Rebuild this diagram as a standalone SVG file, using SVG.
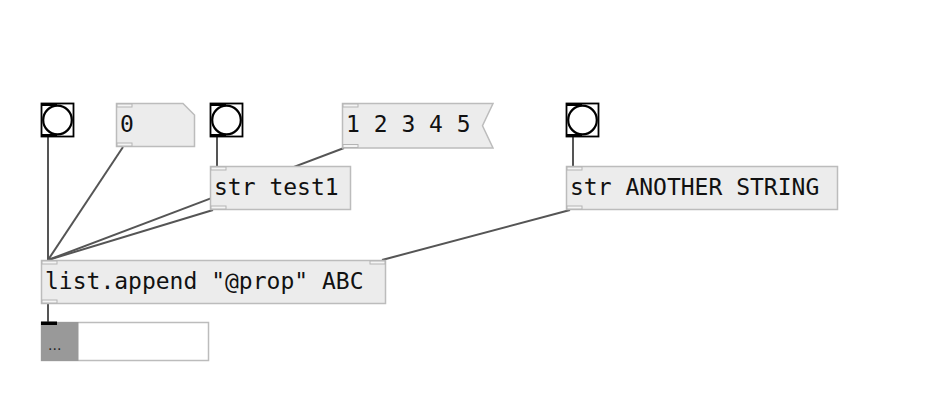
<svg xmlns="http://www.w3.org/2000/svg" width="932" height="400" viewBox="0 0 932 400">
<style>
.box{fill:#ececec;stroke:#bcbcbc;stroke-width:1.5}
.io{fill:#f4f4f4;stroke:#b4b4b4;stroke-width:1}
.t{font-family:"DejaVu Sans Mono","Liberation Mono",monospace;font-size:23px;fill:#111}
.w{stroke:#555;stroke-width:2;fill:none}
.bng{fill:#fff;stroke:#000;stroke-width:1.8}
.circ{fill:#fff;stroke:#000;stroke-width:2.2}
.bio{fill:#000}
</style>
<rect width="932" height="400" fill="#fff"/>
<g id="connectors">
<line class="w" x1="48" y1="137" x2="48" y2="260"/>
<line class="w" x1="123" y1="147" x2="48" y2="260"/>
<line class="w" x1="217" y1="137" x2="217" y2="166"/>
<line class="w" x1="344" y1="148" x2="48" y2="260"/>
<line class="w" x1="213" y1="210" x2="48" y2="260"/>
<line class="w" x1="573" y1="137" x2="573" y2="166"/>
<line class="w" x1="570" y1="210" x2="382" y2="260"/>
<line class="w" x1="48" y1="303" x2="48" y2="322"/>
</g>
<g id="bang1">
<rect class="bng" x="41.5" y="103.5" width="32" height="33"/>
<circle class="circ" cx="57.5" cy="120" r="14.3"/>
<rect class="bio" x="41" y="103" width="16" height="3"/>
<rect class="bio" x="41" y="134" width="16" height="3"/>
</g>
<g id="floatatom">
<path class="box" d="M116.5 103.5 H183 L194.5 115 V146.5 H116.5 Z"/>
<rect class="io" x="117" y="104" width="15" height="3"/>
<rect class="io" x="117" y="143" width="15" height="3"/>
<text class="t" x="120" y="132">0</text>
</g>
<g id="bang2">
<rect class="bng" x="210.5" y="103.5" width="32" height="33"/>
<circle class="circ" cx="226.5" cy="120" r="14.3"/>
<rect class="bio" x="210" y="103" width="16" height="3"/>
<rect class="bio" x="210" y="134" width="16" height="3"/>
</g>
<g id="msg">
<path class="box" d="M342.5 103.5 H493 L482.5 125.75 L493 148 H342.5 Z"/>
<rect class="io" x="343" y="104" width="15" height="3"/>
<rect class="io" x="343" y="144.5" width="15" height="3"/>
<text class="t" x="346" y="132">1 2 3 4 5</text>
</g>
<g id="str_test1">
<rect class="box" x="210.5" y="166.5" width="140" height="43"/>
<rect class="io" x="211" y="167" width="15" height="3"/>
<rect class="io" x="211" y="206" width="15" height="3"/>
<text class="t" x="214" y="195">str test1</text>
</g>
<g id="bang3">
<rect class="bng" x="566.5" y="103.5" width="32" height="33"/>
<circle class="circ" cx="582.5" cy="120" r="14.3"/>
<rect class="bio" x="566" y="103" width="16" height="3"/>
<rect class="bio" x="566" y="134" width="16" height="3"/>
</g>
<g id="str_another">
<rect class="box" x="566.5" y="166.5" width="271" height="43"/>
<rect class="io" x="567" y="167" width="15" height="3"/>
<rect class="io" x="567" y="206" width="15" height="3"/>
<text class="t" x="570" y="195">str ANOTHER STRING</text>
</g>
<g id="list_append">
<rect class="box" x="41.5" y="260.5" width="344" height="43"/>
<rect class="io" x="42" y="261" width="15" height="3"/>
<rect class="io" x="370" y="261" width="15" height="3"/>
<rect class="io" x="42" y="300" width="15" height="3"/>
<text class="t" x="45" y="289">list.append "@prop" ABC</text>
</g>
<g id="display">
<rect x="41.5" y="322.5" width="167" height="38" fill="#fff" stroke="#bcbcbc" stroke-width="1.5"/>
<rect x="41.5" y="322.5" width="36.5" height="38" fill="#999" stroke="#999" stroke-width="1"/>
<rect class="bio" x="41" y="321.5" width="16" height="3.5"/>
<text x="48" y="350" font-family="DejaVu Sans,Liberation Sans,sans-serif" font-size="14" fill="#222">...</text>
</g>
</svg>
